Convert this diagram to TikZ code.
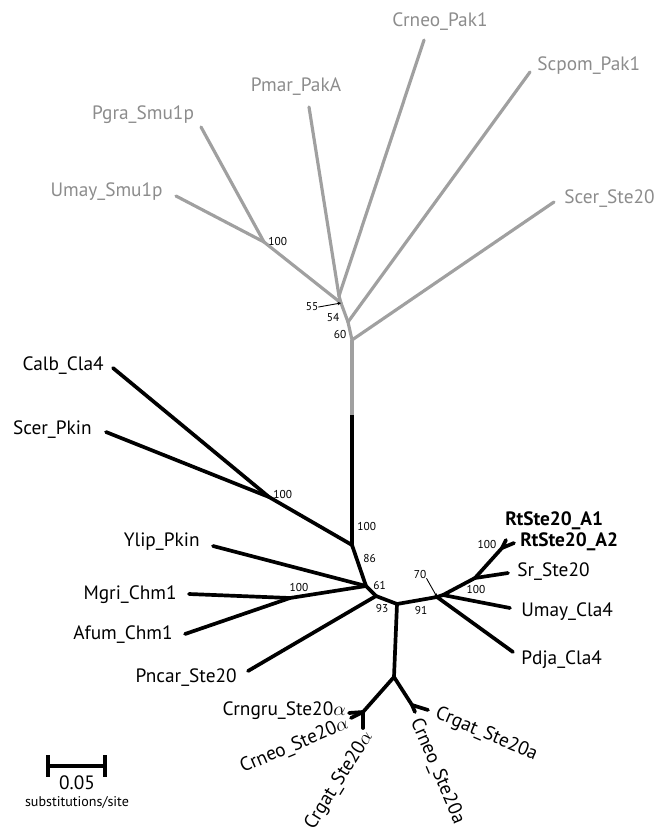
\documentclass[tikz,border=0pt]{standalone}
\usepackage{fontspec}
\setmainfont{PT Sans}
\usetikzlibrary{arrows.meta}
\definecolor{paklines}{RGB}{160,160,160}
\definecolor{paktext}{RGB}{140,140,140}
\begin{document}
\begin{tikzpicture}[x=0.02cm, y=-0.02cm, line cap=round, line join=round]
\useasboundingbox (0,0) rectangle (655,829);
\tikzstyle{every node} = [inner sep=0pt, font=\fontsize{11}{13}\selectfont]
\tikzstyle{pak} = [paklines, line width=1.8pt]
\tikzstyle{cla} = [black, line width=2.1pt]
\tikzstyle{boot} = [font=\fontsize{6.5}{7}\selectfont]
\tikzstyle{pointer} = [black, line width=0.5pt, -{Stealth[length=2pt,width=2pt]}]
% Pak1 part (grey)
\coordinate (p1) at (424,40);
\coordinate (p2) at (530,72);
\coordinate (p3) at (309,107);
\coordinate (p4) at (201,127);
\coordinate (p5) at (176,196);
\coordinate (p6) at (554,202);
\coordinate (p7) at (264,242);
\coordinate (p8) at (339,296);
\coordinate (p9) at (341,303);
\coordinate (p10) at (348,322);
\coordinate (p11) at (352,340);
\coordinate (p12) at (352,415);
\node[paktext] (lp1) at (440,22) {Crneo\_Pak1};
\node[paktext, anchor=west] (lp2) at (537,66) {Scpom\_Pak1};
\node[paktext] (lp3) at (296,87) {Pmar\_PakA};
\node[paktext] (lp4) at (143,115) {Pgra\_Smu1p};
\node[paktext, anchor=east] (lp5) at (163,192) {Umay\_Smu1p};
\node[paktext, anchor=west] (lp6) at (564,199) {Scer\_Ste20};
\draw[pak] (p4) -- (p7);
\draw[pak] (p5) -- (p7);
\draw[pak] (p7) -- (p9);
\draw[pak] (p3) -- (p8);
\draw[pak] (p1) -- (p8);
\draw[pak] (p8) -- (p9);
\draw[pak] (p9) -- (p10);
\draw[pak] (p2) -- (p10);
\draw[pak] (p10) -- (p11);
\draw[pak] (p6) -- (p11);
\draw[pak, line cap=butt] (p11) -- (p12);
\node[boot, anchor=west] (b1) at (268,241) {100};
\node[boot] (b2) at (312,307) {55};
\draw[pointer] (b2.east) -- (p9);
\node[boot] (b3) at (333,318) {54};
\node[boot] (b4) at (340,334) {60};
% Cla4 part (black)
\coordinate (c1) at (352,545);
\coordinate (c2) at (113,368);
\coordinate (c3) at (106,432);
\coordinate (c4) at (269,497);
\coordinate (c5) at (366,586);
\coordinate (c6) at (213,546);
\coordinate (c7) at (189,594);
\coordinate (c8) at (185,634);
\coordinate (c9) at (290,598);
\coordinate (c10) at (376,596);
\coordinate (c11) at (248,671);
\coordinate (c12) at (397,604);
\node[anchor=east] (lc2) at (104,366) {Calb\_Cla4};
\node[anchor=east] (lc3) at (92,430) {Scer\_Pkin};
\node[anchor=east] (lc6) at (200,542) {Ylip\_Pkin};
\node[anchor=east] (lc7) at (177,595) {Mgri\_Chm1};
\node[anchor=east] (lc8) at (173,635) {Afum\_Chm1};
\node[anchor=east] (lc11) at (237,678) {Pncar\_Ste20};
\draw[cla, line cap=butt] (p12) -- (c1);
\draw[cla] (c2) -- (c4);
\draw[cla] (c3) -- (c4);
\draw[cla] (c4) -- (c1);
\draw[cla] (c1) -- (c5);
\draw[cla] (c6) -- (c5);
\draw[cla] (c7) -- (c9);
\draw[cla] (c8) -- (c9);
\draw[cla] (c9) -- (c5);
\draw[cla] (c5) -- (c10);
\draw[cla] (c11) -- (c10);
\draw[cla] (c10) -- (c12);
\node[boot, anchor=west] (b5) at (273,494) {100};
\node[boot, anchor=west] (b6) at (357,526) {100};
\node[boot, anchor=west] (b7) at (363,558) {86};
\node[boot, anchor=west] (b8) at (373,585) {61};
\node[boot] (b9) at (299,587) {100};
\node[boot] (b10) at (382,608) {93};
\node[boot] (b11) at (421,610) {91};
% Ste20 part
\coordinate (s1) at (437,597);
\coordinate (s2) at (443,595);
\coordinate (s3) at (513,652);
\coordinate (s4) at (510,608);
\coordinate (s5) at (475,578);
\coordinate (s6) at (508,573);
\coordinate (s7) at (502,548);
\coordinate (s8) at (506,540);
\coordinate (s9) at (514,543);
\node[anchor=west] (ls3) at (521,660) {Pdja\_Cla4};
\node[anchor=west] (ls4) at (521,612) {Umay\_Cla4};
\node[anchor=west] (ls6) at (517,572) {Sr\_Ste20};
\node[anchor=west, font=\fontsize{11}{13}\selectfont\bfseries] (ls8) at (505,521) {RtSte20\_A1};
\node[anchor=west, font=\fontsize{11}{13}\selectfont\bfseries] (ls9) at (520,542) {RtSte20\_A2};
\draw[cla] (c12) -- (s1);
\draw[cla] (s1) -- (s3);
\draw[cla] (s1) -- (s2);
\draw[cla] (s2) -- (s4);
\draw[cla] (s2) -- (s5);
\draw[cla] (s5) -- (s6);
\draw[cla] (s5) -- (s7);
\draw[cla] (s7) -- (s8);
\draw[cla] (s7) -- (s9);
\node[boot] (b12) at (420,574) {70};
\draw[pointer] (b12.south east) -- (s1);
\node[boot] (b13) at (476,589) {100};
\node[boot] (b14) at (487,544) {100};
% Ste20 alpha/a part
\coordinate (a1) at (394,677);
\coordinate (a2) at (363,712);
\coordinate (a3) at (349,713);
\coordinate (a4) at (351,718);
\coordinate (a5) at (363,728);
\coordinate (a6) at (412,705);
\coordinate (a7) at (415,712);
\coordinate (a8) at (428,710);
\node[anchor=east] (la3) at (346,711) {Crngru\_Ste20$\alpha$};
\node[anchor=east, rotate=23] (la4) at (348,723) {Crneo\_Ste20$\alpha$};
\node[anchor=east, rotate=58] (la5) at (369,733) {Crgat\_Ste20$\alpha$};
\node[anchor=west, rotate=-67] (la7) at (415,719) {Crneo\_Ste20a};
\node[anchor=west, rotate=-23] (la8) at (436,713) {Crgat\_Ste20a};
\draw[cla] (c12) -- (a1);
\draw[cla] (a1) -- (a2);
\draw[cla] (a2) -- (a3);
\draw[cla] (a2) -- (a4);
\draw[cla] (a2) -- (a5);
\draw[cla] (a1) -- (a6);
\draw[cla] (a6) -- (a7);
\draw[cla] (a6) -- (a8);
% scale bar
\coordinate (sb1) at (48,766);
\coordinate (sb2) at (105,766);
\draw[cla, line cap=butt] (sb1) -- (sb2);
\draw[cla, line cap=butt] ([yshift=6]sb1) -- ([yshift=-6]sb1);
\draw[cla, line cap=butt] ([yshift=6]sb2) -- ([yshift=-6]sb2);
\node (sbl) at (77,783) {0.05};
\node[font=\fontsize{8}{9}\selectfont] (sbu) at (77,802) {substitutions/site};
\end{tikzpicture}
\end{document}
